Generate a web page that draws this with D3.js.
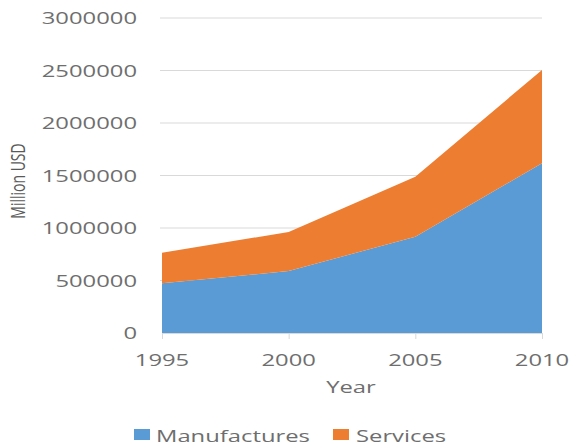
<!DOCTYPE html>
<html>
<head>
<meta charset="utf-8">
<script src="https://cdn.jsdelivr.net/npm/d3@7"></script>
<style>
  html, body { margin: 0; padding: 0; background: #fff; }
  svg text { font-family: "Open Sans", "DejaVu Sans", sans-serif; fill: #6e6e6e; }
</style>
</head>
<body>
<svg id="chart" width="573" height="448"></svg>
<script>
// Exports by year, million USD
const years = [1995, 2000, 2005, 2010];
const manufactures = [474000, 590000, 917000, 1616000];
const services = [291000, 372000, 572000, 889000];
const seriesNames = ["Manufactures", "Services"];
const seriesColors = ["#5b9bd5", "#ed7d31"];
const yTicks = [0, 500000, 1000000, 1500000, 2000000, 2500000, 3000000];

const svg = d3.select("#chart");
const margin = { left: 162, right: 31, top: 18, bottom: 115 };
const W = 573, H = 448;
const fontSize = 17, stretch = 1.4;

const x = d3.scaleLinear().domain([1995, 2010]).range([margin.left, W - margin.right]);
const y = d3.scaleLinear().domain([0, 3000000]).range([H - margin.bottom, margin.top]);

const rows = years.map((yr, i) => ({ year: yr, Manufactures: manufactures[i], Services: services[i] }));
const stacked = d3.stack().keys(seriesNames)(rows);

// horizontal gridlines
svg.append("g").selectAll("line").data(yTicks.filter(d => d > 0)).join("line")
  .attr("x1", margin.left - 2).attr("x2", W - margin.right)
  .attr("y1", d => y(d)).attr("y2", d => y(d))
  .attr("stroke", "#d9d9d9").attr("stroke-width", 1);

// stacked areas
const area = d3.area().x(d => x(d.data.year)).y0(d => y(d[0])).y1(d => y(d[1]));
svg.append("g").selectAll("path").data(stacked).join("path")
  .attr("d", area).attr("fill", (d, i) => seriesColors[i]);

// x axis line and ticks
const xAxis = d3.axisBottom(x).tickValues(years).tickFormat(d3.format("d")).tickSizeOuter(0).tickSize(6);
const gx = svg.append("g").attr("transform", `translate(0,${y(0)})`).call(xAxis);
gx.select(".domain").attr("stroke", "#d9d9d9");
gx.selectAll(".tick line").attr("stroke", "#d9d9d9");
gx.selectAll(".tick text").remove();

// wide-set text helper
function label(g, txt, px, py, anchor, size) {
  return g.append("text")
    .attr("transform", `translate(${px},${py}) scale(${stretch},1)`)
    .attr("text-anchor", anchor)
    .attr("font-size", size || fontSize)
    .text(txt);
}

const labels = svg.append("g");
years.forEach(yr => label(labels, d3.format("d")(yr), x(yr), 366, "middle"));
yTicks.forEach(v => label(labels, d3.format("d")(v), 137, y(v) + 6, "end"));

// axis titles
label(labels, "Year", 351, 393, "middle");
svg.append("text")
  .attr("transform", `translate(25,181) rotate(-90) scale(1,1.38)`)
  .attr("text-anchor", "middle").attr("font-size", 14)
  .style("fill", "#595959")
  .text("Million USD");

// legend
const legend = svg.append("g");
const legendItems = [
  { name: seriesNames[0], color: seriesColors[0], sx: 134, tx: 156 },
  { name: seriesNames[1], color: seriesColors[1], sx: 333, tx: 356 }
];
legendItems.forEach(d => {
  legend.append("rect").attr("x", d.sx).attr("y", 429).attr("width", 16).attr("height", 11).attr("fill", d.color);
  label(legend, d.name, d.tx, 442, "start");
});
</script>
</body>
</html>
